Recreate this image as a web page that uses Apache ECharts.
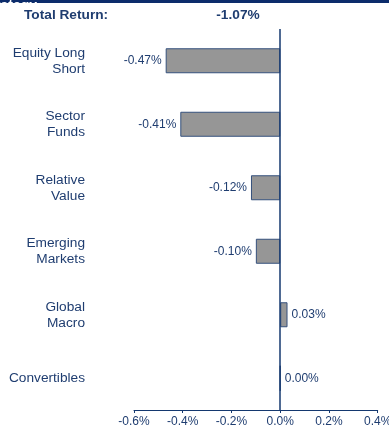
<!DOCTYPE html>
<html>
<head>
<meta charset="utf-8">
<script src="https://cdn.jsdelivr.net/npm/echarts@6/dist/echarts.min.js"></script>
<style>
  html, body { margin: 0; padding: 0; background: #ffffff; }
  #chart { width: 389px; height: 434px; }
</style>
</head>
<body>
<div id="chart"></div>
<script>
// Strategy attribution data
var categories = ['Equity Long\nShort', 'Sector\nFunds', 'Relative\nValue', 'Emerging\nMarkets', 'Global\nMacro', 'Convertibles'];
var returns = [-0.47, -0.41, -0.12, -0.10, 0.03, 0.00];
var xTicks = [-0.6, -0.4, -0.2, 0.0, 0.2, 0.4];
var totalReturnLabel = 'Total Return:';
var totalReturn = -1.07;

var navy = '#1f3d70';
var lineNavy = '#14386f';
var font = 'Liberation Sans, Arial, sans-serif';

var chart = echarts.init(document.getElementById('chart'), null, { renderer: 'canvas' });

chart.setOption({
  animation: false,
  backgroundColor: '#ffffff',
  textStyle: { fontFamily: font },
  graphic: [
    { type: 'rect', shape: { x: 0, y: -20, width: 389, height: 23 }, style: { fill: '#0c2c6b' } },
    { type: 'text', x: 37, y: -1, style: { text: 'Strategy', fill: '#ffffff', font: 'bold 14px ' + font, align: 'right', verticalAlign: 'alphabetic' } },
    { type: 'text', x: 24, y: 15, style: { text: totalReturnLabel, fill: navy, font: 'bold 13.7px ' + font, verticalAlign: 'middle' } },
    { type: 'text', x: 238, y: 15, style: { text: totalReturn.toFixed(2) + '%', fill: navy, font: 'bold 13.7px ' + font, align: 'center', verticalAlign: 'middle' } }
  ],
  grid: { left: 134, right: 11.3, top: 29, bottom: 24, containLabel: false, outerBoundsMode: 'none' },
  xAxis: {
    type: 'value',
    min: xTicks[0],
    max: xTicks[xTicks.length - 1],
    interval: 0.2,
    axisLine: { show: true, onZero: false, lineStyle: { color: lineNavy, width: 1 } },
    axisTick: { show: true, inside: false, length: 3, lineStyle: { color: lineNavy } },
    splitLine: { show: false },
    axisLabel: {
      color: navy, fontSize: 12, fontFamily: font, margin: 6,
      formatter: function (v) { return v.toFixed(1) + '%'; }
    }
  },
  yAxis: {
    type: 'category',
    data: categories,
    inverse: true,
    axisLine: { show: false },
    axisTick: { show: false },
    splitLine: { show: false },
    axisLabel: { color: navy, fontSize: 13.7, fontFamily: font, lineHeight: 16, margin: 49, align: 'right' }
  },
  series: [{
    type: 'bar',
    data: returns.map(function (v) {
      return {
        value: v,
        label: { position: v < 0 ? 'left' : 'right', distance: 4 }
      };
    }),
    barWidth: 25,
    itemStyle: { color: '#969696', borderColor: '#34507c', borderWidth: 1 },
    label: {
      show: true,
      color: navy,
      fontSize: 12,
      fontFamily: font,
      formatter: function (p) { return p.value.toFixed(2) + '%'; }
    },
    markLine: {
      silent: true,
      symbol: 'none',
      label: { show: false },
      lineStyle: { color: lineNavy, width: 1.5, type: 'solid' },
      data: [{ xAxis: 0 }]
    }
  }]
});
</script>
</body>
</html>
